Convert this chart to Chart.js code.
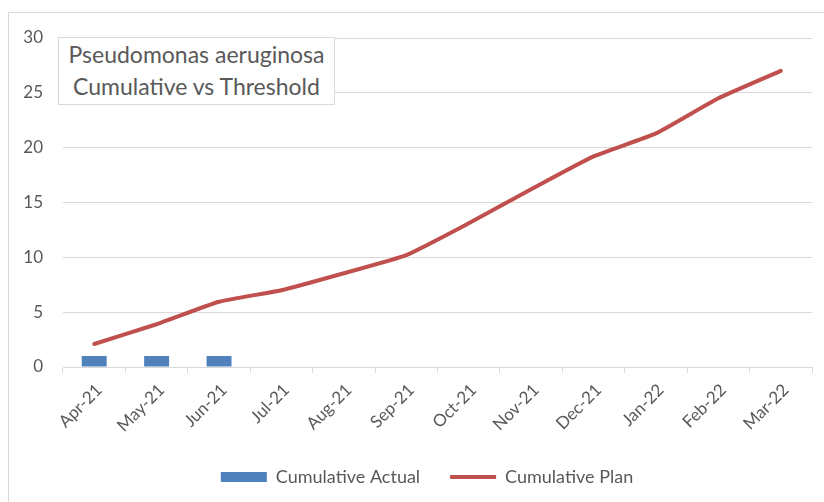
<!DOCTYPE html>
<html>
<head>
<meta charset="utf-8">
<script src="https://cdn.jsdelivr.net/npm/chart.js@4"></script>
<style>
  html, body { margin: 0; padding: 0; background: #fff; }
  #wrap { position: relative; width: 824px; height: 502px; overflow: hidden; }
  #frame { position: absolute; left: 8px; top: 12px; width: 900px; height: 600px; border: 1px solid #d9d9d9; box-sizing: border-box; pointer-events: none; }
  #c { position: absolute; left: 0; top: 0; }
  #title { position: absolute; left: 58px; top: 37px; width: 277px; height: 68px; box-sizing: border-box;
    border: 1px solid #d9d9d9; background: #fff; color: #595959; font-family: Lato, "Open Sans", sans-serif;
    font-size: 23px; line-height: 32px; text-align: center; padding-top: 0px; white-space: nowrap; }
</style>
</head>
<body>
<div id="wrap">
  <canvas id="c" width="824" height="502"></canvas>
  <div id="frame"></div>
  <div id="title">Pseudomonas aeruginosa<br>Cumulative vs Threshold</div>
</div>
<script>
const categories = ["Apr-21","May-21","Jun-21","Jul-21","Aug-21","Sep-21","Oct-21","Nov-21","Dec-21","Jan-22","Feb-22","Mar-22"];
const cumulativeActual = [1, 1, 1, null, null, null, null, null, null, null, null, null];
const cumulativePlan = [2.1, 3.9, 5.95, 7.0, 8.55, 10.2, 13.1, 16.2, 19.2, 21.3, 24.5, 27.0];
const yTickStep = 5;
const yMax = 30;

const grey = '#595959';
const gridGrey = '#d9d9d9';
const fontFam = 'Lato, "Open Sans", sans-serif';

const shiftLegend = {
  id: 'shiftLegend',
  afterLayout(chart) {
    if (chart.legend) { chart.legend.left += 42; }
  }
};

new Chart(document.getElementById('c'), {
  data: {
    labels: categories,
    datasets: [
      {
        type: 'bar',
        label: 'Cumulative Actual',
        data: cumulativeActual,
        backgroundColor: '#4f81bd',
        borderWidth: 0,
        barPercentage: 0.4,
        categoryPercentage: 1.0,
        pointStyle: 'rect',
        order: 2
      },
      {
        type: 'line',
        label: 'Cumulative Plan',
        data: cumulativePlan,
        borderColor: '#c0504d',
        backgroundColor: '#c0504d',
        borderWidth: 4,
        borderCapStyle: 'round',
        borderJoinStyle: 'round',
        pointRadius: 0,
        pointHoverRadius: 0,
        tension: 0.15,
        pointStyle: 'line',
        order: 1
      }
    ]
  },
  plugins: [shiftLegend],
  options: {
    responsive: false,
    animation: false,
    events: [],
    layout: { padding: { left: 0, right: 12, top: 38, bottom: 6 } },
    plugins: {
      title: { display: false },
      tooltip: { enabled: false },
      legend: {
        display: true,
        position: 'bottom',
        labels: {
          usePointStyle: true,
          pointStyleWidth: 46,
          boxHeight: 10,
          padding: 30,
          color: grey,
          font: { family: fontFam, size: 18 },
          sort: (a, b) => a.datasetIndex - b.datasetIndex
        }
      }
    },
    scales: {
      x: {
        type: 'category',
        offset: true,
        grid: {
          display: true,
          offset: true,
          drawOnChartArea: false,
          drawTicks: true,
          tickLength: 6,
          color: gridGrey
        },
        border: { display: true, color: gridGrey, width: 1 },
        ticks: {
          color: grey,
          font: { family: fontFam, size: 17 },
          maxRotation: 45,
          minRotation: 45,
          autoSkip: false,
          padding: 7,
          labelOffset: 5
        },
        afterFit: (s) => { s.height = 71; }
      },
      y: {
        type: 'linear',
        min: 0,
        max: yMax,
        grid: { color: gridGrey, drawTicks: false, lineWidth: 1 },
        border: { display: false },
        ticks: {
          color: grey,
          font: { family: fontFam, size: 17 },
          padding: 20,
          stepSize: yTickStep
        },
        afterFit: (s) => { s.width = 63; }
      }
    }
  }
});
</script>
</body>
</html>
